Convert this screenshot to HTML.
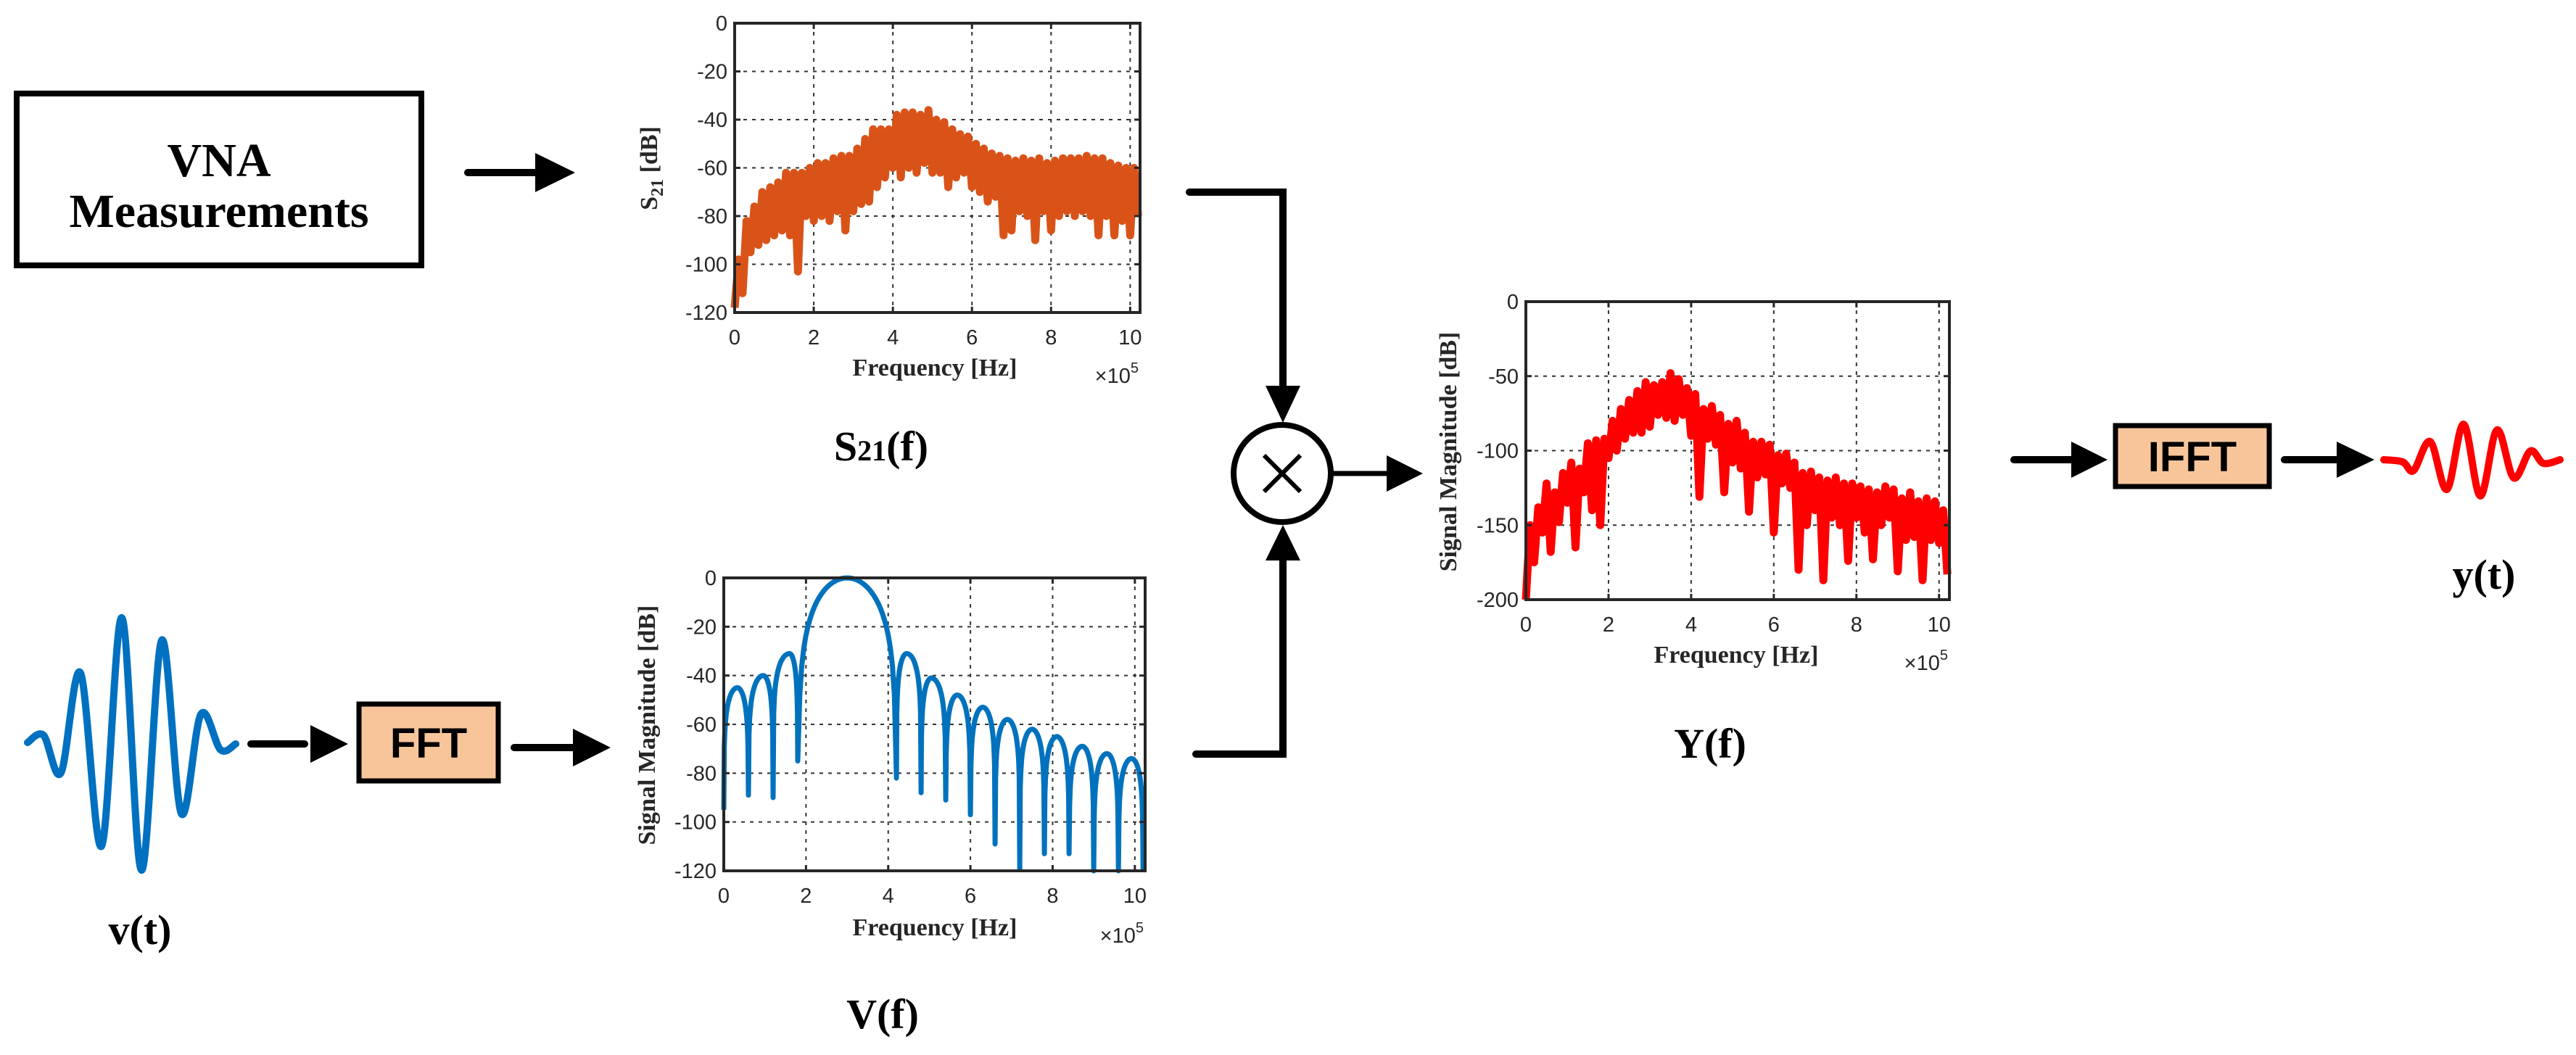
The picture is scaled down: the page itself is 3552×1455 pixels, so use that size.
<!DOCTYPE html>
<html><head><meta charset="utf-8">
<style>
html,body{margin:0;padding:0;background:#fff;}
svg{display:block;}
.tk{font-family:"Liberation Sans",sans-serif;font-size:29px;fill:#262626;}
.al{font-family:"Liberation Serif",serif;font-weight:bold;font-size:34px;fill:#262626;}
.big{font-family:"Liberation Serif",serif;font-weight:bold;font-size:58px;fill:#000;}
.box{font-family:"Liberation Sans",sans-serif;font-weight:bold;font-size:58px;fill:#000;}
</style></head>
<body>
<svg id="fig" width="3552" height="1455" viewBox="0 0 3552 1455" xmlns="http://www.w3.org/2000/svg">
  <g>
    <rect x="23" y="129" width="558" height="237" fill="#fff" stroke="#000" stroke-width="8"/>
    <text x="302" y="243" text-anchor="middle" font-family="Liberation Serif,serif" font-weight="bold" font-size="66">VNA</text>
    <text x="302" y="313" text-anchor="middle" font-family="Liberation Serif,serif" font-weight="bold" font-size="66">Measurements</text>
  </g>
  <g>
    <line x1="645" y1="238" x2="745" y2="238" stroke="#000" stroke-width="10" stroke-linecap="round"/>
    <polygon points="738,211 793,238 738,265" fill="#000"/>
  </g>

  <path id="vwave" fill="none" stroke="#0070C0" stroke-width="10" stroke-linecap="round" stroke-linejoin="round"/>
  <text x="193" y="1302" text-anchor="middle" class="big">v(t)</text>
  <g>
    <line x1="346" y1="1026" x2="420" y2="1026" stroke="#000" stroke-width="10" stroke-linecap="round"/>
    <polygon points="428,1000 480,1026 428,1052" fill="#000"/>
  </g>
  <g>
    <rect x="495" y="971" width="192" height="106" fill="#F8C59B" stroke="#000" stroke-width="7"/>
    <text x="591" y="1045" text-anchor="middle" class="box">FFT</text>
  </g>
  <g>
    <line x1="709" y1="1031" x2="795" y2="1031" stroke="#000" stroke-width="10" stroke-linecap="round"/>
    <polygon points="790,1005 842,1031 790,1057" fill="#000"/>
  </g>

  <g>
    <polyline points="1640,265 1769,265 1769,540" fill="none" stroke="#000" stroke-width="10" stroke-linecap="round"/>
    <polygon points="1745,532 1793,532 1769,583" fill="#000"/>
  </g>
  <g>
    <polyline points="1649,1040 1769,1040 1769,770" fill="none" stroke="#000" stroke-width="10" stroke-linecap="round"/>
    <polygon points="1745,773 1793,773 1769,724" fill="#000"/>
  </g>
  <g>
    <ellipse cx="1768" cy="653" rx="67" ry="67" fill="#fff" stroke="#000" stroke-width="8"/>
    <line x1="1743" y1="628" x2="1793" y2="678" stroke="#000" stroke-width="6"/>
    <line x1="1793" y1="628" x2="1743" y2="678" stroke="#000" stroke-width="6"/>
  </g>
  <g>
    <line x1="1836" y1="653" x2="1915" y2="653" stroke="#000" stroke-width="7"/>
    <polygon points="1912,628 1962,653 1912,678" fill="#000"/>
  </g>

  <g>
    <line x1="2777" y1="634" x2="2860" y2="634" stroke="#000" stroke-width="10" stroke-linecap="round"/>
    <polygon points="2856,609 2906,634 2856,659" fill="#000"/>
  </g>
  <g>
    <rect x="2917" y="587" width="212" height="84" fill="#F8C59B" stroke="#000" stroke-width="7"/>
    <text x="3023" y="650" text-anchor="middle" class="box">IFFT</text>
  </g>
  <g>
    <line x1="3150" y1="634" x2="3225" y2="634" stroke="#000" stroke-width="10" stroke-linecap="round"/>
    <polygon points="3222,609 3274,634 3222,659" fill="#000"/>
  </g>
  <path id="ywave" fill="none" stroke="#FF0000" stroke-width="10" stroke-linecap="round" stroke-linejoin="round"/>
  <text x="3425" y="812" text-anchor="middle" class="big">y(t)</text>

  <text x="1215" y="635" text-anchor="middle" class="big">S<tspan font-size="40">21</tspan>(f)</text>
  <text x="1217" y="1418" text-anchor="middle" class="big">V(f)</text>
  <text x="2358" y="1045" text-anchor="middle" class="big">Y(f)</text>

  <g id="c1"></g>
  <g id="c2"></g>
  <g id="c3"></g>
</svg>
<script>
const s21Step = 0.1;
const s21Values = [-118,-98,-112,-82,-95,-76,-92,-70,-90,-68,-88,-66,-86,-62,-88,-62,-103,-62,-80,-60,-82,-58,-80,-58,-82,-56,-78,-55,-86,-55,-78,-52,-75,-48,-74,-44,-68,-44,-64,-44,-60,-38,-64,-37,-60,-37,-62,-38,-58,-36,-62,-40,-62,-41,-68,-44,-64,-46,-62,-47,-68,-50,-70,-52,-74,-54,-72,-55,-88,-56,-86,-57,-78,-56,-80,-57,-90,-56,-78,-58,-86,-57,-80,-56,-78,-56,-80,-56,-78,-55,-80,-56,-88,-56,-80,-58,-88,-59,-82,-60,-88,-60,-80];
const yStep = 0.1;
const yValues = [-200,-150,-175,-138,-155,-122,-168,-128,-148,-115,-135,-108,-165,-112,-128,-95,-140,-93,-150,-92,-105,-80,-100,-72,-92,-66,-88,-60,-88,-54,-84,-56,-76,-54,-78,-48,-80,-52,-76,-58,-90,-62,-131,-72,-92,-70,-96,-76,-128,-82,-108,-80,-112,-88,-141,-94,-118,-94,-116,-96,-155,-103,-122,-102,-125,-108,-180,-115,-150,-114,-140,-118,-187,-120,-145,-118,-150,-122,-174,-122,-145,-124,-155,-126,-173,-128,-150,-124,-145,-126,-181,-132,-160,-128,-158,-134,-187,-132,-160,-134,-162,-140,-183];
const vNullX = [0, 0.6, 1.2, 1.8, 4.2, 4.8, 5.4, 6.0, 6.6, 7.2, 7.8, 8.4, 9.0, 9.6, 10.2];
const vNullY = [-95, -89, -90, -75, -82, -88, -91, -97, -109, -119, -113, -113, -120, -120, -120];
const vPeakX = [0.33, 0.96, 1.6, 3.0, 4.45, 5.05, 5.68, 6.3, 6.9, 7.5, 8.1, 8.72, 9.32, 9.92];
const vPeakY = [-45, -40, -31, 0, -31, -41, -48, -53, -58, -62, -65, -69, -72, -74];
const xTicks = [0,2,4,6,8,10];
const s21YTicks = [0,-20,-40,-60,-80,-100,-120];
const vYTicks = [0,-20,-40,-60,-80,-100,-120];
const yYTicks = [0,-50,-100,-150,-200];
const vPulseX = [38,60,84,111,140,168,195,223,250,277,304,325];
const vPulseY = [1024,1014,1066,928,1167,852,1200,883,1122,985,1034,1026];
const yPulseX = [3287,3313,3328,3351,3374,3397,3420,3443,3466,3489,3507,3530];
const yPulseY = [634,637,649,609,675,585,684,593,659,622,639,634];

const NS='http://www.w3.org/2000/svg';
function mk(tag, attrs, parent){const e=document.createElementNS(NS,tag);for(const k in attrs)e.setAttribute(k,attrs[k]);parent.appendChild(e);return e;}

function smoothPath(xs, ys){
  let d='M'+xs[0]+','+ys[0];
  for(let i=0;i<xs.length-1;i++){
    const x0=xs[Math.max(0,i-1)],y0=ys[Math.max(0,i-1)],x1=xs[i],y1=ys[i],x2=xs[i+1],y2=ys[i+1],x3=xs[Math.min(xs.length-1,i+2)],y3=ys[Math.min(xs.length-1,i+2)];
    d+=' C'+(x1+(x2-x0)/6)+','+(y1+(y2-y0)/6)+' '+(x2-(x3-x1)/6)+','+(y2-(y3-y1)/6)+' '+x2+','+y2;
  }
  return d;
}
document.getElementById('vwave').setAttribute('d', smoothPath(vPulseX, vPulseY));
document.getElementById('ywave').setAttribute('d', smoothPath(yPulseX, yPulseY));

function axes(g, L, R, T, B, xmax, ymin, ymax, yTicks){
  const sx=v=>L+(v/xmax)*(R-L);
  const sy=v=>T+(ymax-v)/(ymax-ymin)*(B-T);
  xTicks.forEach(v=>{ if(v>0){
    const l=mk('line',{x1:sx(v),x2:sx(v),y1:T,y2:B,stroke:'#333','stroke-width':2,'stroke-dasharray':'5 7'},g);
    
    
  }});
  yTicks.forEach(v=>{ if(v!==ymax && v!==ymin){
    const l=mk('line',{x1:L,x2:R,y1:sy(v),y2:sy(v),stroke:'#333','stroke-width':2,'stroke-dasharray':'5 7'},g);
    
    
  }});
  return {sx,sy};
}
function frame(g, L, R, T, B, sx, sy, xTicksArr, yTicks, cfg){
  const r=mk('rect',{x:L,y:T,width:R-L,height:B-T,fill:'none',stroke:'#262626','stroke-width':4},g);
  
  
  xTicksArr.forEach(v=>{
    mk('line',{x1:sx(v),x2:sx(v),y1:B,y2:B-8,stroke:'#262626','stroke-width':3},g);
    mk('line',{x1:sx(v),x2:sx(v),y1:T,y2:T+8,stroke:'#262626','stroke-width':3},g);
    const t=mk('text',{x:sx(v),y:cfg.xlabY,'text-anchor':'middle',class:'tk'},g);
    t.textContent=v;
    
    
  });
  yTicks.forEach(v=>{
    mk('line',{x1:L,x2:L+8,y1:sy(v),y2:sy(v),stroke:'#262626','stroke-width':3},g);
    mk('line',{x1:R,x2:R-8,y1:sy(v),y2:sy(v),stroke:'#262626','stroke-width':3},g);
    const t=mk('text',{x:L-10,y:sy(v)+10,'text-anchor':'end',class:'tk'},g);
    t.textContent=v;
    
    
  });
  const xt=mk('text',{x:cfg.xtX,y:cfg.xtY,'text-anchor':'middle',class:'al'},g);
  xt.textContent='Frequency [Hz]';
  
  
  const ex=mk('text',{x:R-2,y:cfg.xtY+10,'text-anchor':'end',class:'tk','font-size':26},g);
  ex.innerHTML='×10<tspan dy="-14" font-size="20">5</tspan>';
  
  
  const yt=mk('text',{x:0,y:0,'text-anchor':'middle',class:'al',transform:'translate('+cfg.ytX+','+cfg.ytY+') rotate(-90)'},g);
  yt.innerHTML=cfg.ytHtml;
  
  
}

(function(){
  const g=document.getElementById('c1');
  const L=1013,R=1572,T=32,B=431,xmax=10.25,ymin=-120,ymax=0;
  const {sx,sy}=axes(g,L,R,T,B,xmax,ymin,ymax,s21YTicks);
  let d='';
  s21Values.forEach((v,i)=>{const x=Math.min(i*s21Step,xmax);d+=(i?'L':'M')+sx(x).toFixed(1)+','+sy(v).toFixed(1);});
  const p=mk('path',{d:d,fill:'none',stroke:'#D95319','stroke-width':11,'stroke-linejoin':'round'},g);
  
  
  frame(g,L,R,T,B,sx,sy,xTicks,s21YTicks,{xlabY:475,xtX:1289,xtY:518,ytX:906,ytY:232,ytHtml:'S<tspan font-size="24" dy="8">21</tspan><tspan dy="-8"> [dB]</tspan>'});
})();

(function(){
  const g=document.getElementById('c2');
  const L=998,R=1579,T=797,B=1201,xmax=10.25,ymin=-120,ymax=0;
  const {sx,sy}=axes(g,L,R,T,B,xmax,ymin,ymax,vYTicks);
  let d='';
  for(let k=0;k<vPeakX.length;k++){
    const a=vNullX[k],b=vNullX[k+1],pk=vPeakX[k],pv=vPeakY[k],na=vNullY[k],nb=vNullY[k+1];
    const kk = pv===0 ? 40 : 20;
    const N=50;
    for(let j=0;j<=N;j++){
      const t=j/N;
      let x,val;
      if(t<=0.5){x=a+(pk-a)*t*2; const s=Math.sin(Math.PI/2*t*2); val=Math.max(pv+kk*Math.log10(Math.max(s,1e-6)),na);}
      else {x=pk+(b-pk)*(t-0.5)*2; const s=Math.cos(Math.PI/2*(t-0.5)*2); val=Math.max(pv+kk*Math.log10(Math.max(s,1e-6)),nb);}
      x=Math.min(x,xmax); val=Math.max(val,ymin);
      d+=(d?'L':'M')+sx(x).toFixed(1)+','+sy(val).toFixed(1);
    }
  }
  const p=mk('path',{d:d,fill:'none',stroke:'#0072BD','stroke-width':7,'stroke-linejoin':'round'},g);
  
  
  frame(g,L,R,T,B,sx,sy,xTicks,vYTicks,{xlabY:1245,xtX:1289,xtY:1290,ytX:903,ytY:1000,ytHtml:'Signal Magnitude [dB]'});
})();

(function(){
  const g=document.getElementById('c3');
  const L=2104,R=2688,T=416,B=827,xmax=10.25,ymin=-200,ymax=0;
  const {sx,sy}=axes(g,L,R,T,B,xmax,ymin,ymax,yYTicks);
  let d='';
  yValues.forEach((v,i)=>{const x=Math.min(i*yStep,xmax);d+=(i?'L':'M')+sx(x).toFixed(1)+','+sy(v).toFixed(1);});
  const p=mk('path',{d:d,fill:'none',stroke:'#FF0000','stroke-width':11,'stroke-linejoin':'round'},g);
  
  
  frame(g,L,R,T,B,sx,sy,xTicks,yYTicks,{xlabY:871,xtX:2394,xtY:914,ytX:2008,ytY:623,ytHtml:'Signal Magnitude [dB]'});
})();
</script>
</body></html>
